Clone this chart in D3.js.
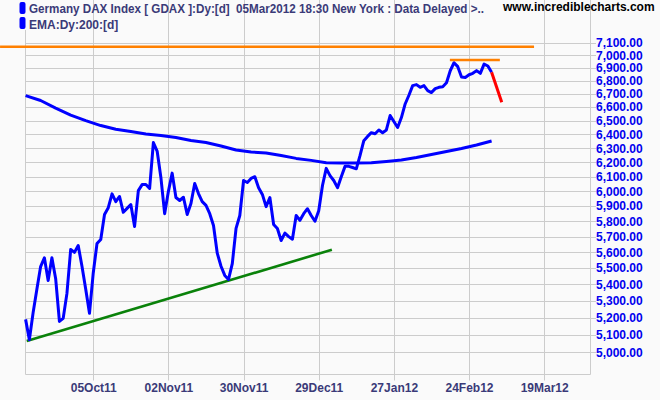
<!DOCTYPE html>
<html><head><meta charset="utf-8">
<script src="https://cdn.jsdelivr.net/npm/d3@7"></script>
<style>body{margin:0;background:#fafafa}svg{display:block}</style>
</head><body><svg id="c" width="660" height="400"></svg>
<script>
// Daily closes, trading-day index 0..124
const closes = [5190,5072,5230,5370,5510,5565,5424,5565,5435,5178,
5196,5345,5618,5599,5643,5512,5370,5226,5470,5656,
5682,5845,5890,5983,5930,5965,5859,5885,5911,5766,
6005,6046,6046,6019,6341,6280,6095,5850,6000,6125,
5958,5938,5960,5845,5918,6053,5985,5930,5905,5850,
5772,5594,5512,5455,5430,5528,5753,5838,6074,6060,
6088,6100,6025,5979,5897,5958,5779,5753,5675,5723,
5700,5683,5838,5806,5850,5883,5838,5800,5870,6040,
6158,6108,6074,6025,6100,6172,6172,6164,6155,6249,
6354,6385,6412,6404,6432,6412,6432,6538,6494,6450,
6523,6624,6690,6763,6771,6750,6763,6725,6710,6740,
6750,6755,6785,6878,6941,6910,6830,6826,6847,6858,
6879,6858,6930,6915,6866];
const emaDays = [0,4,8,12,16,20,24,28,32,36,40,44,48,52,56,60,64,68,72,76,80,84,88,92,96,100,104,108,112,116,120,124];
const emaValues = [6687,6650,6593,6541,6500,6464,6437,6420,6402,6391,6377,6355,6341,6316,6287,6273,6266,6248,6228,6214,6198,6196,6196,6198,6206,6216,6234,6255,6277,6298,6323,6352];
const xTickDays = [18,38,58,78,98,118,138];
const xTickLabels = ["05Oct11","02Nov11","30Nov11","29Dec11","27Jan12","24Feb12","19Mar12"];
const yTicks = [5000,5100,5200,5300,5400,5500,5600,5700,5800,5900,6000,6100,6200,6300,6400,6500,6600,6700,6800,6900,7000,7100];
// Hand-drawn annotation lines
const resistanceDays = [-6.8,135.3], resistanceValues = [7068,7068];
const topDays = [112.9,126.2], topValues = [6962,6962];
const supportDays = [0.3,81.5], supportValues = [5064,5616];
const dropDays = [124,126.7], dropValues = [6866,6637];
const titleText = "Germany DAX Index [ GDAX ]:Dy:[d]  05Mar2012 18:30 New York : Data Delayed >..";
const emaText = "EMA:Dy:200:[d]";
const siteText = "www.incrediblecharts.com";

const svg = d3.select("#c");
const pL = 25, pR = 590, pT = 0, pB = 374.5;
const x = d3.scaleLinear().domain([0,150]).range([25.6, 25.6 + 150*3.758]);
const y = d3.scaleLog().domain([5000,7100]).range([352.3,42.7]);
const font = "'Liberation Sans', Arial, sans-serif";
const gridC = "#cccccc", textC = "#3a3a78";

svg.append("rect").attr("width",660).attr("height",400).attr("fill","#fafafa");

// vertical grid + ticks
svg.append("g").selectAll("line").data(xTickDays).join("line")
  .attr("x1", d => Math.round(x(d))+0.5).attr("x2", d => Math.round(x(d))+0.5)
  .attr("y1", pT).attr("y2", pB + 6)
  .attr("stroke", gridC).attr("stroke-width",1);
// horizontal grid + ticks
svg.append("g").selectAll("line").data(yTicks).join("line")
  .attr("x1", pL).attr("x2", pR + 6)
  .attr("y1", d => Math.round(y(d))+0.5).attr("y2", d => Math.round(y(d))+0.5)
  .attr("stroke", gridC).attr("stroke-width",1);
// frame
svg.append("path").attr("d", `M${pL+0.5},30V${pB}H${pR+0.5}V${pT}`)
  .attr("fill","none").attr("stroke",gridC).attr("stroke-width",1);

// y labels
svg.append("g").selectAll("text").data(yTicks).join("text")
  .attr("x", 596).attr("y", d => y(d)).attr("dy","0.36em")
  .attr("font-family", font).attr("font-weight","bold").attr("font-size",12)
  .attr("fill","#0000ee").text(d => d3.format(",.2f")(d));
// x labels
svg.append("g").selectAll("text").data(xTickDays).join("text")
  .attr("x", d => x(d)+0.5).attr("y", 391.5).attr("text-anchor","middle")
  .attr("font-family", font).attr("font-weight","bold").attr("font-size",12)
  .attr("fill", textC).text((d,i) => xTickLabels[i]);

const ln = d3.line().x(d => x(d[0])).y(d => y(d[1]));

// EMA
svg.append("path").attr("d", ln(emaDays.map((d,i)=>[d, emaValues[i]])))
  .attr("fill","none").attr("stroke","#0000ff").attr("stroke-width",3).attr("stroke-linejoin","round");
// support (green)
svg.append("path").attr("d", ln(supportDays.map((d,i)=>[d, supportValues[i]])))
  .attr("fill","none").attr("stroke","#0a820a").attr("stroke-width",2.6);
// price
svg.append("path").attr("d", ln(closes.map((v,i)=>[i, v])))
  .attr("fill","none").attr("stroke","#0000ff").attr("stroke-width",3).attr("stroke-linejoin","round");
// red projected drop
svg.append("path").attr("d", ln(dropDays.map((d,i)=>[d, dropValues[i]])))
  .attr("fill","none").attr("stroke","#ff0000").attr("stroke-width",3);
// orange resistance lines
svg.append("path").attr("d", ln(resistanceDays.map((d,i)=>[d, resistanceValues[i]])))
  .attr("fill","none").attr("stroke","#ff8000").attr("stroke-width",2.6);
svg.append("path").attr("d", ln(topDays.map((d,i)=>[d, topValues[i]])))
  .attr("fill","none").attr("stroke","#ff8000").attr("stroke-width",2.6);

// legend
svg.append("rect").attr("x",19.5).attr("y",2).attr("width",6).attr("height",12).attr("rx",2).attr("fill","#0000ff");
svg.append("rect").attr("x",19.5).attr("y",17).attr("width",6).attr("height",12).attr("rx",2).attr("fill","#0000ff");
svg.append("text").attr("x",29).attr("y",12.5).attr("font-family",font).attr("font-weight","bold").attr("font-size",12)
  .attr("fill",textC).attr("xml:space","preserve").style("white-space","pre")
  .attr("textLength",455).attr("lengthAdjust","spacingAndGlyphs").text(titleText);
svg.append("text").attr("x",29).attr("y",28.5).attr("font-family",font).attr("font-weight","bold").attr("font-size",12)
  .attr("fill",textC).text(emaText);
svg.append("text").attr("x",503).attr("y",11).attr("font-family",font).attr("font-weight","bold").attr("font-size",12)
  .attr("fill","#000").text(siteText);
</script></body></html>
